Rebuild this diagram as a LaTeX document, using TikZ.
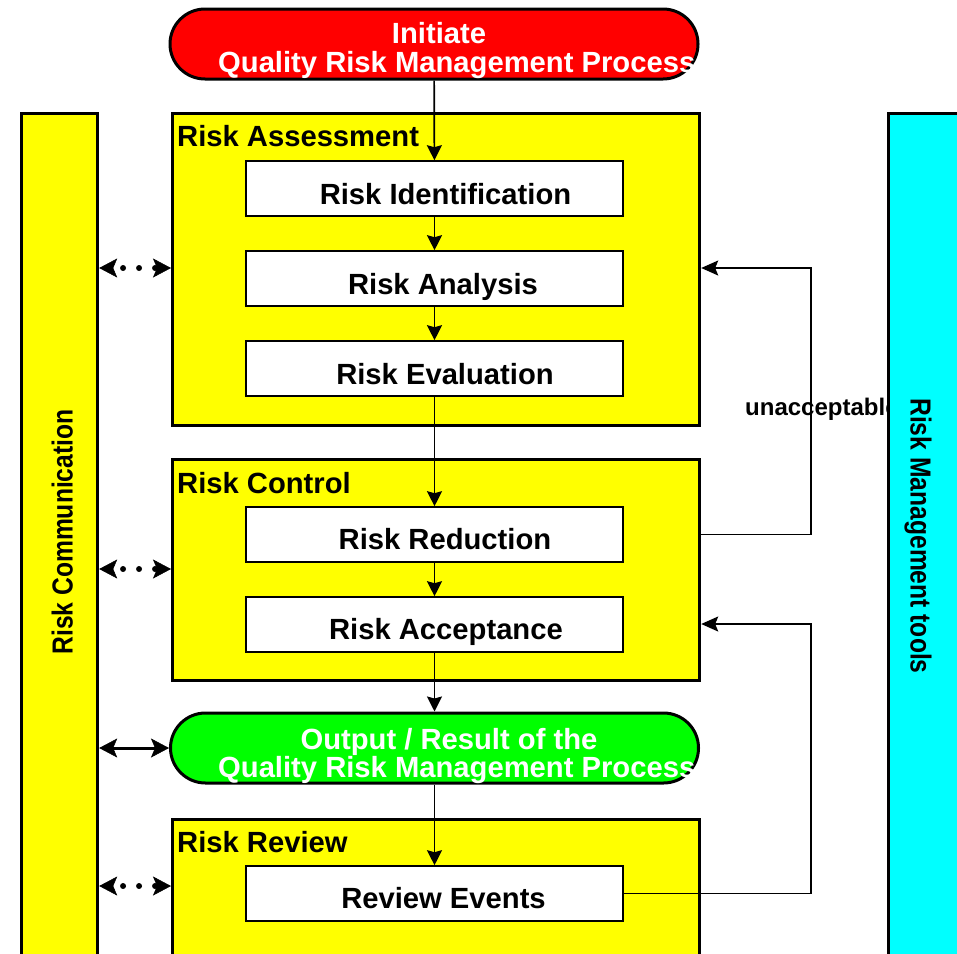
\documentclass[tikz,border=0pt]{standalone}
\usepackage{fontspec}
\setmainfont{Liberation Sans}
\usetikzlibrary{arrows.meta,shapes.misc}
\definecolor{qyellow}{RGB}{255,255,0}
\definecolor{qred}{RGB}{255,0,0}
\definecolor{qgreen}{RGB}{0,255,0}
\definecolor{qcyan}{RGB}{0,255,255}
\begin{document}
\begin{tikzpicture}[x=1pt,y=-1pt,
  outerbox/.style={draw=black, line width=3.2pt, fill=qyellow, inner sep=0pt, anchor=north west},
  toolbox/.style={draw=black, line width=3.2pt, fill=qcyan, inner sep=0pt, anchor=north west},
  innerbox/.style={draw=black, line width=1.6pt, fill=white, minimum width=377pt, minimum height=55pt, inner sep=0pt},
  pill/.style={draw=black, line width=3pt, rounded rectangle, minimum width=528pt, minimum height=70pt, inner sep=0pt},
  lbl/.style={font=\fontsize{29.2}{31}\selectfont\bfseries, inner sep=0pt, text=black},
  pilltext/.style={font=\fontsize{29.2}{31}\selectfont\bfseries, inner sep=0pt, text=white},
  sidetext/.style={font=\fontsize{29}{30}\selectfont\bfseries, inner sep=0pt, text height=21pt, text depth=0pt, anchor=center},
  flow/.style={line width=1.7pt, -{Stealth[length=15pt,width=15pt,inset=2pt]}},
  fb/.style={line width=1.5pt, -{Stealth[length=17pt,width=15pt,inset=3pt]}},
  dotlink/.style={line width=6pt, line cap=round, dash pattern=on 0pt off 16pt, dash phase=6pt,
    {Stealth[length=18pt,width=19pt,inset=4pt,line width=0.5pt]}-{Stealth[length=18pt,width=19pt,inset=4pt,line width=0.5pt]}},
  solidlink/.style={line width=3pt,
    {Stealth[length=18pt,width=19pt,inset=4pt,line width=0.5pt]}-{Stealth[length=18pt,width=19pt,inset=4pt,line width=0.5pt]}}
]
\useasboundingbox (0,0) rectangle (957,953);
\clip (0,0) rectangle (957,953);
\fill[white] (0,0) rectangle (957,953);

% side columns
\node[outerbox, minimum width=76pt, minimum height=880pt] (comm) at (20,112) {};
\node[sidetext, rotate=90] (commT) at (62,532) {\scalebox{0.85}[1]{Risk Communication}};

% main boxes
\node[outerbox, minimum width=527pt, minimum height=312pt] (assess) at (171,112) {};
\node[outerbox, minimum width=527pt, minimum height=221pt] (control) at (171,458) {};
\node[outerbox, minimum width=527pt, minimum height=170pt] (review) at (171,818) {};

\node[lbl, anchor=base west] (assessT) at (177,146) {Risk Assessment};
\node[lbl, anchor=base west] (controlT) at (177,493) {Risk Control};
\node[lbl, anchor=base west] (reviewT) at (177,852) {Risk Review};

% pills
\node[pill, fill=qred] (init) at (434,44) {};
\node[pill, fill=qgreen] (output) at (434.5,748) {};
\node[pilltext, anchor=base] (initT1) at (439,43) {Initiate};
\node[pilltext, anchor=base west] (initT2) at (218,72) {Quality Risk Management Process};
\node[pilltext, anchor=base] (outT1) at (449,749) {Output / Result of the};
\node[pilltext, anchor=base west] (outT2) at (218,777) {Quality Risk Management Process};

% inner boxes
\node[innerbox] (ident) at (434.5,188.5) {};
\node[innerbox] (analysis) at (434.5,278.5) {};
\node[innerbox] (evaluation) at (434.5,368.5) {};
\node[innerbox] (reduction) at (434.5,534.5) {};
\node[innerbox] (acceptance) at (434.5,624.5) {};
\node[innerbox] (events) at (434.5,893.5) {};

\node[lbl, anchor=base] (identT) at (445.5,204) {Risk Identification};
\node[lbl, anchor=base] (analysisT) at (443,294) {Risk Analysis};
\node[lbl, anchor=base] (evaluationT) at (445,384) {Risk Evaluation};
\node[lbl, anchor=base] (reductionT) at (445,549) {Risk Reduction};
\node[lbl, anchor=base] (acceptanceT) at (446,639) {Risk Acceptance};
\node[lbl, anchor=base] (eventsT) at (443.5,908) {Review Events};

% main flow
\draw[flow] (init) -- (ident);
\draw[flow] (ident) -- (analysis);
\draw[flow] (analysis) -- (evaluation);
\draw[flow] (evaluation) -- (reduction);
\draw[flow] (reduction) -- (acceptance);
\draw[flow] (acceptance) -- (output);
\draw[flow] (output) -- (events);

% feedback loops
\coordinate (fbtop) at (811,268);
\coordinate (fbbot) at (811,624);
\draw[fb] (control.east |- reduction.center) -| (fbtop) -- (assess.east |- fbtop);
\draw[fb] (events.east) -| (fbbot) -- (control.east |- fbbot);
\node[font=\fontsize{24}{26}\selectfont\bfseries, inner sep=0pt, anchor=base west] (unacc) at (745,415) {unacceptable};

% communication links
\coordinate (l1) at (0,268);
\coordinate (l2) at (0,569);
\coordinate (l3) at (0,748);
\coordinate (l4) at (0,886);
\draw[dotlink] (comm.east |- l1) -- (assess.west |- l1);
\draw[dotlink] (comm.east |- l2) -- (control.west |- l2);
\draw[solidlink] (comm.east |- l3) -- (output.west |- l3);
\draw[dotlink] (comm.east |- l4) -- (review.west |- l4);

% tools column
\node[toolbox, minimum width=100pt, minimum height=880pt] (tools) at (887,112) {};
\node[sidetext, rotate=-90] (toolsT) at (921,536) {\scalebox{0.85}[1]{Risk Management tools}};
\end{tikzpicture}
\end{document}
